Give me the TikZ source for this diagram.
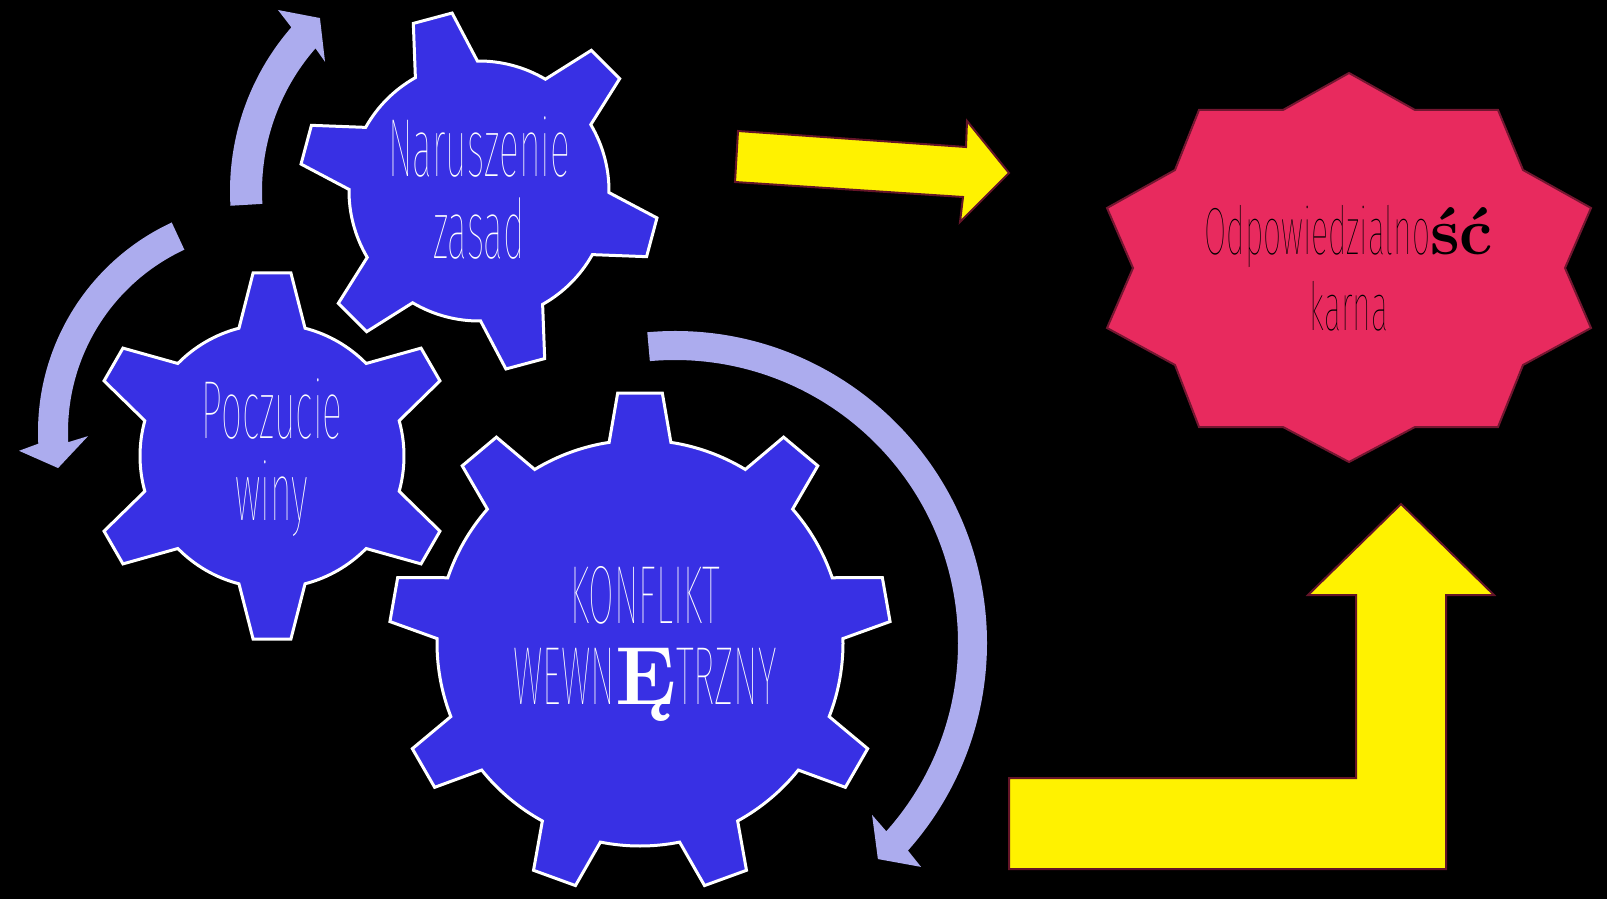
\documentclass[tikz,border=0pt]{standalone}
\usepackage{fontspec}
\usepackage{tikz}

\newfontfamily\thinfont{Fira Sans Thin}[FakeStretch=0.45]
\newfontfamily\burstfont{Fira Sans Thin}[FakeStretch=0.48]
\newcommand{\serifbold}[1]{{\normalfont\bfseries #1}}

\definecolor{gearblue}{RGB}{56,48,228}
\definecolor{spinblue}{RGB}{172,172,238}
\definecolor{boltedge}{RGB}{100,20,40}
\definecolor{burstred}{RGB}{232,42,94}
\definecolor{burstedge}{RGB}{115,22,48}

\tikzset{
    gearline/.style={draw=white, line width=0.3mm, fill=gearblue, line join=miter},
    spin/.style={fill=spinblue},
    bolt/.style={draw=boltedge, line width=0.2mm, fill=yellow},
    burst/.style={draw=burstedge, line width=0.2mm, fill=burstred},
    gearlabel/.style={text=white, align=center, inner sep=0pt,
        font=\thinfont\fontsize{23.5}{23.3}\selectfont},
    burstlabel/.style={text=black, align=center, inner sep=0pt,
        font=\burstfont\fontsize{19}{21.6}\selectfont}
}

% środek, liczba zębów, kąt pierwszego zęba, promień zęba, promień koła, pół-kąt szczytu, pół-kąt podstawy
\newcommand{\gear}[7]{%
    \begin{scope}[shift={#1}]
        \pgfmathsetmacro{\gstep}{360/#2}
        \draw[gearline] (#3-#7:#5)
            \foreach \k [evaluate=\k as \t using {#3+(\k-1)*\gstep}] in {1,...,#2} {
                -- (\t-#7:#5) -- (\t-#6:#4) -- (\t+#6:#4) -- (\t+#7:#5)
                arc[start angle=\t+#7, end angle=\t+\gstep-#7, radius=#5]
            } -- cycle;
    \end{scope}}

\begin{document}
\begin{tikzpicture}[x=0.1mm, y=0.1mm]
    % Tło
    \useasboundingbox (0,0) rectangle (1607,899);
    \fill[black] (0,0) rectangle (1607,899);

    % Strzałki wokół kół
    \begin{scope}[shift={(479,708)}]
        \fill[spin] (183.4:249) arc[start angle=183.4, end angle=138.9, radius=249]
            -- (138:270.5) -- (132.6:235) -- (140:201) -- (138.9:217)
            arc[start angle=138.9, end angle=183.4, radius=217] -- cycle;
    \end{scope}
    \begin{scope}[shift={(269,467)}]
        \fill[spin] (114.9:231) arc[start angle=114.9, end angle=182.9, radius=231]
            -- (184.3:250.7) -- (189.7:214) -- (181.3:181) -- (182.9:201)
            arc[start angle=182.9, end angle=114.9, radius=201] -- cycle;
    \end{scope}
    \begin{scope}[shift={(675,256)}]
        \fill[spin] (95.1:312) arc[start angle=95.1, end angle=-41.7, radius=312]
            -- (-42.3:332.7) -- (-46.8:296.4) -- (-41.1:261.5) -- (-41.7:283)
            arc[start angle=-41.7, end angle=95.1, radius=283] -- cycle;
    \end{scope}

    % Koła zębate
    \gear{(479,708)}{6}{105}{180}{130}{6.4}{14.3}
    \gear{(272,443)}{6}{90}{184}{132}{5.9}{14.5}
    \gear{(640,256)}{9}{90}{251}{203}{5.1}{8.75}

    \node[gearlabel] (breach) at (479,711) {Naruszenie\\zasad};
    \node[gearlabel] (guilt) at (272,441) {Poczucie\\winy};
    \node[gearlabel] (conflict) at (645,255) {KONFLIKT\\WEWN\serifbold{Ę}TRZNY};

    % Żółte strzałki
    \draw[bolt] (738,768) -- (966,752) -- (967,778) -- (1009,726)
        -- (960,677) -- (963,702) -- (735,717) -- cycle;
    \draw[bolt] (1401,395) -- (1494,304) -- (1446,304) -- (1446,30)
        -- (1009,30) -- (1009,121) -- (1356,121) -- (1356,304) -- (1308,304) -- cycle;

    % Gwiazda
    \draw[burst] (1349,826)
        \foreach \px/\py in {
            1415/789, 1498/789, 1523/729, 1591/691, 1565/631, 1591/571,
            1523/534, 1498/472, 1415/472, 1349/437, 1283/472, 1199/472,
            1175/534, 1107/571, 1133/631, 1107/691, 1175/729, 1199/789, 1283/789}
        { -- (\px,\py) } -- cycle;

    \node[burstlabel] (liability) at (1349,631) {Odpowiedzialno\serifbold{ść}\\karna};
\end{tikzpicture}
\end{document}
